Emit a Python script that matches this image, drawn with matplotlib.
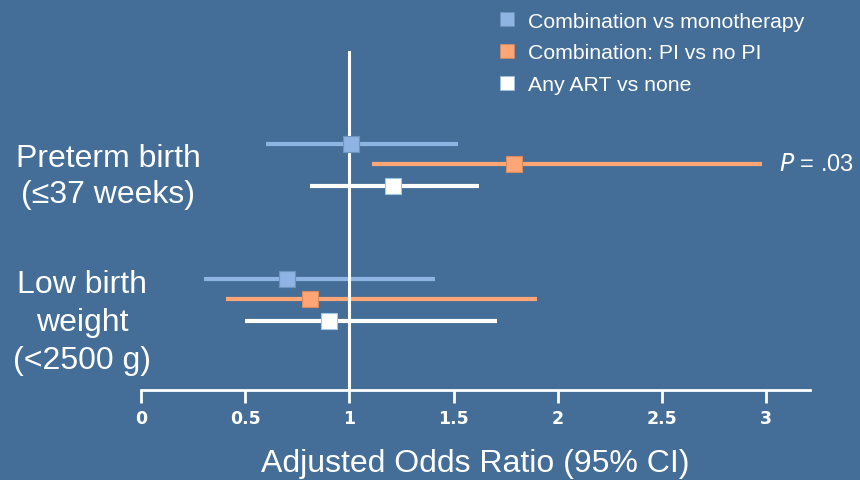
import matplotlib.pyplot as plt
from matplotlib.lines import Line2D
from matplotlib.transforms import blended_transform_factory

plt.rcParams["font.family"] = ["Liberation Sans", "DejaVu Sans"]

# outcomes, top to bottom
outcomes = ["Preterm birth\n(≤37 weeks)", "Low birth\nweight\n(<2500 g)"]
comparisons = ["Combination vs monotherapy", "Combination: PI vs no PI", "Any ART vs none"]

# adjusted odds ratios and 95% CI, one list per comparison (preterm, low birth weight)
aor_combo_mono = [1.01, 0.70]
lo_combo_mono = [0.60, 0.30]
hi_combo_mono = [1.52, 1.41]

aor_pi = [1.79, 0.81]
lo_pi = [1.11, 0.41]
hi_pi = [2.98, 1.90]

aor_any = [1.21, 0.90]
lo_any = [0.81, 0.50]
hi_any = [1.62, 1.71]

xticks = [0, 0.5, 1, 1.5, 2, 2.5, 3]
xtick_labels = ["0", "0.5", "1", "1.5", "2", "2.5", "3"]
p_note = ".03"

bg = "#446e97"
colors = ["#8db4e2", "#ffa576", "#ffffff"]
edges = ["#6f93bd", "#d98a5e", "#9cc8e6"]

fig = plt.figure(figsize=(8.6, 4.81), dpi=100, facecolor=bg)
ax = fig.add_axes([141 / 860, 90 / 481, 669 / 860, 339 / 481])
ax.set_facecolor(bg)

group_y = [0, -1]
offsets = [0.15, 0.0, -0.163]
series = [
    (aor_combo_mono, lo_combo_mono, hi_combo_mono),
    (aor_pi, lo_pi, hi_pi),
    (aor_any, lo_any, hi_any),
]

for k, (aor, lo, hi) in enumerate(series):
    for g, gy in enumerate(group_y):
        y = gy + offsets[k]
        ax.plot([lo[g], hi[g]], [y, y], color=colors[k], lw=3.0,
                solid_capstyle="butt", zorder=1)
        ax.plot(aor[g], y, marker="s", ms=11.5, color=colors[k],
                mec=edges[k], mew=0.8, zorder=3)

ax.axvline(1, color="white", lw=2.2, zorder=2)

ax.set_xlim(0, 3.21)
ax.set_ylim(-1.674, 0.837)

for s in ["top", "right", "left"]:
    ax.spines[s].set_visible(False)
ax.spines["bottom"].set_color("white")
ax.spines["bottom"].set_linewidth(2)
ax.set_yticks([])
ax.set_xticks(xticks)
ax.set_xticklabels(xtick_labels, fontsize=12.5, fontweight="bold", color="white",
                   family="DejaVu Sans")
ax.tick_params(axis="x", colors="white", length=9, width=2, pad=5)

ax.set_xlabel("Adjusted Odds Ratio (95% CI)", fontsize=23, color="white", labelpad=15)

# outcome labels on the left
tr = blended_transform_factory(fig.transFigure, ax.transData)
ax.text(108 / 860, group_y[0] - 0.09, outcomes[0], transform=tr, ha="center",
        va="center", fontsize=23, color="white", linespacing=1.25)
ax.text(82 / 860, group_y[1] - 0.17, outcomes[1], transform=tr, ha="center",
        va="center", fontsize=23, color="white", linespacing=1.33)

# significance note beside the PI vs no PI bar
ax.text(3.06, group_y[0] + offsets[1], f"$P$ = {p_note}", ha="left", va="center",
        fontsize=17, color="white", clip_on=False)

handles = [Line2D([], [], ls="none", marker="s", ms=10.5, color=c, mec=e, mew=0.5)
           for c, e in zip(colors, edges)]
leg = fig.legend(handles, comparisons, loc="upper left",
                 bbox_to_anchor=(490 / 860, 1 - 4 / 481), frameon=False,
                 fontsize=15.3, labelcolor="white", handlelength=0.8,
                 handletextpad=0.6, labelspacing=0.6, borderaxespad=0)

fig.savefig("out.png", dpi=100, facecolor=bg)
